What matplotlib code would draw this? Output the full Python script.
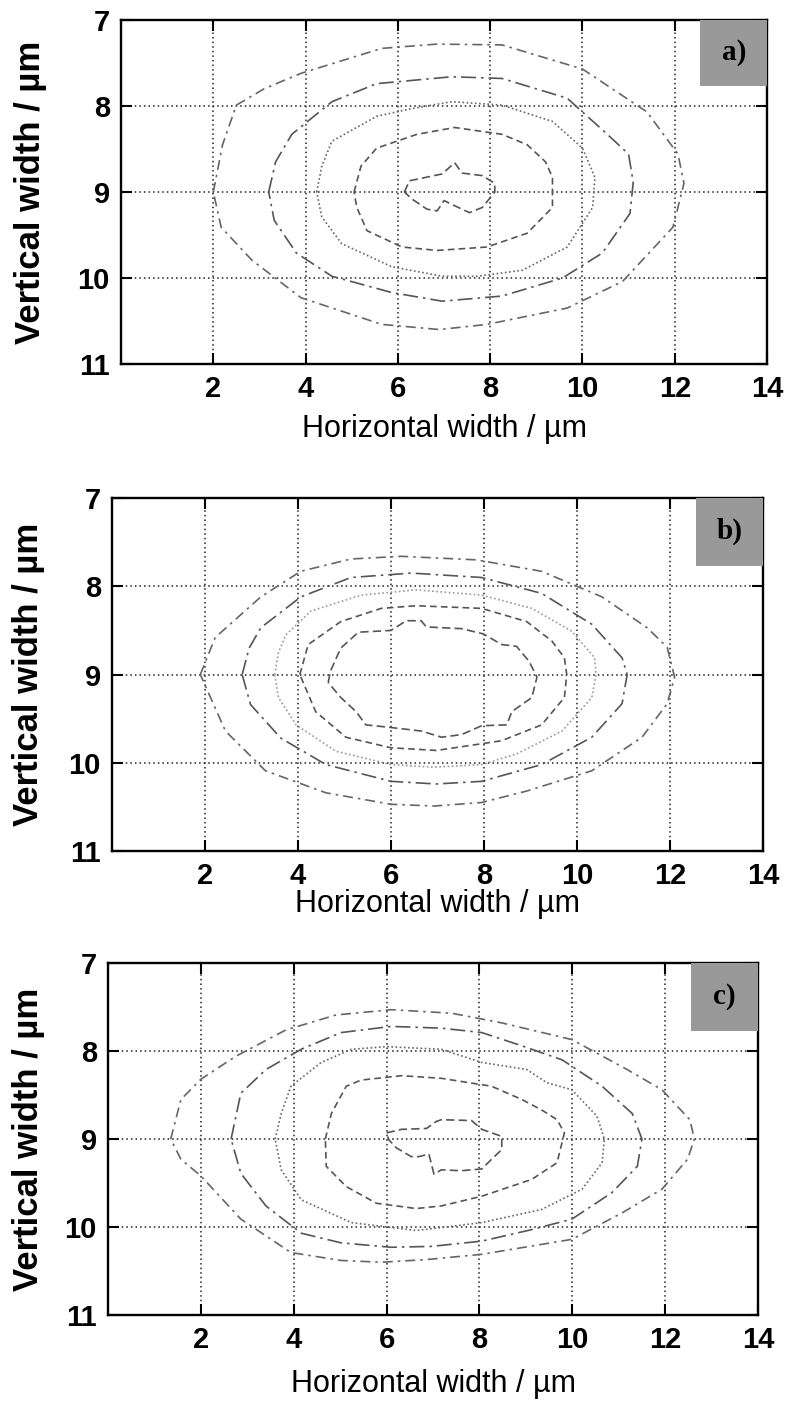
import matplotlib
matplotlib.use("Agg")
import matplotlib.pyplot as plt
from matplotlib.patches import Rectangle

# Eixos comuns
x_ticks = [2, 4, 6, 8, 10, 12, 14]
y_ticks = [7, 8, 9, 10, 11]
panel_labels = ["a)", "b)", "c)"]

# Contornos (x, y) em µm, do externo ao interno
a1 = [(2.0, 9.0), (2.2, 8.45), (2.5, 7.99), (3.1, 7.8), (3.9, 7.62), (5.65, 7.33), (6.85, 7.28), (8.26, 7.29),
      (10.0, 7.57), (11.4, 8.07), (12.07, 8.56), (12.2, 8.9), (11.96, 9.41), (10.87, 10.04),
      (9.67, 10.35), (7.93, 10.54), (6.9, 10.6), (5.65, 10.54), (3.9, 10.23), (2.83, 9.79), (2.17, 9.41)]
a2 = [(3.2, 9.0), (3.35, 8.65), (3.7, 8.33), (4.57, 7.95), (5.54, 7.74), (7.17, 7.66), (8.26, 7.68),
      (9.67, 7.91), (10.54, 8.33), (11.0, 8.56), (11.1, 8.89), (11.03, 9.25), (10.43, 9.71),
      (9.57, 10.0), (8.26, 10.21), (6.96, 10.27), (5.87, 10.17), (4.57, 9.98), (3.8, 9.71), (3.32, 9.33)]
a3 = [(4.24, 9.0), (4.35, 8.7), (4.57, 8.41), (5.54, 8.12), (6.3, 8.03), (7.17, 7.95), (8.26, 7.99),
      (9.35, 8.18), (10.0, 8.49), (10.27, 8.83), (10.22, 9.18), (9.67, 9.64), (8.7, 9.91), (7.72, 9.98),
      (6.96, 9.98), (5.87, 9.87), (4.78, 9.6), (4.35, 9.29)]
a4 = [(5.05, 9.0), (5.2, 8.7), (5.54, 8.49), (6.41, 8.33), (7.23, 8.25), (8.26, 8.33), (8.8, 8.45),
      (9.2, 8.65), (9.35, 8.83), (9.35, 9.18), (8.8, 9.48), (7.93, 9.64), (6.85, 9.68), (6.09, 9.64),
      (5.33, 9.45), (5.11, 9.18)]
a5 = [(6.14, 9.0), (6.25, 8.87), (6.96, 8.79), (7.23, 8.66), (7.39, 8.78), (7.83, 8.81), (8.1, 8.9),
      (8.1, 9.0), (7.83, 9.18), (7.55, 9.24), (7.23, 9.16), (7.0, 9.1), (6.85, 9.22), (6.63, 9.2), (6.3, 9.08)]

b1 = [(1.9, 9.0), (2.22, 8.58), (3.2, 8.12), (4.06, 7.83), (5.14, 7.69), (6.22, 7.66), (7.84, 7.7),
      (9.24, 7.83), (10.54, 8.12), (11.51, 8.47), (11.94, 8.69), (12.1, 9.03), (11.94, 9.33), (11.4, 9.71),
      (10.32, 10.09), (8.92, 10.32), (7.95, 10.45), (6.92, 10.49), (6.0, 10.47), (4.6, 10.34),
      (3.3, 10.09), (2.44, 9.64)]
b2 = [(2.8, 9.0), (2.95, 8.7), (3.2, 8.47), (4.06, 8.12), (5.14, 7.9), (6.44, 7.85), (7.95, 7.9),
      (9.24, 8.08), (10.32, 8.43), (10.97, 8.81), (11.08, 9.0), (10.97, 9.33), (10.32, 9.71), (9.24, 10.02),
      (7.95, 10.21), (6.98, 10.24), (6.0, 10.21), (4.6, 10.02), (3.63, 9.72), (2.98, 9.34)]
b3 = [(3.5, 9.0), (3.58, 8.75), (3.74, 8.55), (4.28, 8.28), (5.36, 8.1), (6.54, 8.04), (7.95, 8.1),
      (9.03, 8.25), (9.89, 8.51), (10.38, 8.81), (10.41, 9.0), (10.32, 9.26), (9.68, 9.64), (8.7, 9.9),
      (7.95, 10.02), (6.92, 10.05), (6.0, 10.02), (4.82, 9.87), (3.96, 9.57), (3.58, 9.26)]
b4 = [(4.04, 9.0), (4.22, 8.66), (4.92, 8.4), (5.79, 8.25), (6.54, 8.22), (7.95, 8.25), (8.92, 8.4),
      (9.46, 8.62), (9.73, 8.81), (9.78, 9.0), (9.73, 9.26), (9.24, 9.57), (8.38, 9.75), (6.98, 9.86),
      (6.0, 9.83), (5.03, 9.71), (4.38, 9.42)]
b5 = [(4.65, 9.09), (4.7, 8.96), (4.92, 8.7), (5.3, 8.52), (6.0, 8.5), (6.33, 8.39), (6.65, 8.39),
      (6.76, 8.46), (7.52, 8.48), (7.99, 8.54), (8.38, 8.66), (8.7, 8.68), (8.97, 8.85), (9.14, 9.03),
      (9.03, 9.26), (8.6, 9.42), (8.49, 9.57), (7.95, 9.58), (7.52, 9.68), (7.09, 9.71), (6.65, 9.64),
      (6.0, 9.6), (5.46, 9.57), (5.25, 9.42), (4.92, 9.26)]

c1 = [(1.35, 9.0), (1.57, 8.55), (2.0, 8.32), (2.75, 8.06), (3.83, 7.76), (4.91, 7.59), (6.1, 7.53),
      (7.4, 7.57), (8.48, 7.68), (9.99, 7.87), (11.18, 8.21), (11.93, 8.44), (12.53, 8.78), (12.63, 9.0),
      (12.48, 9.23), (11.93, 9.57), (11.07, 9.84), (9.99, 10.14), (8.05, 10.31), (6.86, 10.37),
      (5.89, 10.4), (5.02, 10.38), (3.94, 10.29), (2.86, 9.91), (2.0, 9.42), (1.57, 9.23)]
c2 = [(2.65, 9.0), (2.86, 8.48), (3.4, 8.21), (4.16, 7.98), (5.02, 7.79), (6.1, 7.72), (7.18, 7.74),
      (8.05, 7.79), (8.91, 7.94), (9.78, 8.1), (10.64, 8.4), (11.29, 8.71), (11.5, 9.0), (11.4, 9.31),
      (10.85, 9.61), (9.99, 9.91), (9.12, 10.03), (8.05, 10.16), (6.97, 10.22), (6.1, 10.23),
      (5.02, 10.18), (4.16, 10.07), (3.4, 9.76), (2.86, 9.39)]
c3 = [(3.6, 9.0), (3.73, 8.71), (3.94, 8.4), (4.59, 8.13), (5.24, 7.98), (6.0, 7.95), (7.18, 7.98),
      (8.05, 8.13), (9.02, 8.21), (9.45, 8.36), (9.99, 8.44), (10.53, 8.74), (10.69, 9.0), (10.64, 9.27),
      (10.21, 9.57), (9.34, 9.8), (8.05, 9.95), (6.64, 10.04), (5.24, 9.95), (4.16, 9.69), (3.73, 9.35)]
c4 = [(4.68, 9.0), (4.81, 8.71), (5.13, 8.4), (5.45, 8.33), (6.32, 8.28), (7.18, 8.31), (8.26, 8.4),
      (8.91, 8.55), (9.34, 8.67), (9.67, 8.78), (9.83, 8.93), (9.67, 9.27), (9.12, 9.46), (8.05, 9.65),
      (7.18, 9.76), (6.64, 9.79), (5.78, 9.73), (5.13, 9.54), (4.7, 9.31)]
c5 = [(6.0, 8.93), (6.32, 8.89), (6.86, 8.88), (7.07, 8.8), (7.18, 8.78), (7.83, 8.79), (8.05, 8.89),
      (8.48, 8.97), (8.48, 9.12), (8.26, 9.23), (8.05, 9.34), (7.61, 9.36), (7.18, 9.35), (7.02, 9.4),
      (6.91, 9.17), (6.7, 9.2), (6.53, 9.2), (6.21, 9.1), (6.05, 9.01)]

# Estilos dos contornos (externo -> interno)
estilos = [(0, (6, 3, 1.5, 3)), (0, (9, 3, 1.5, 3)), (0, (1, 1.5)), (0, (4, 2.5)), (0, (5, 2.5))]
cores = ["#666666", "#555555", "#666666", "#555555", "#555555"]


def desenhar_painel(ax, contornos, rotulo, cor_pontilhado="#666666", xlab_y=-0.15, ylab_x=-0.11):
    for i, pts in enumerate(contornos):
        xs = [p[0] for p in pts] + [pts[0][0]]
        ys = [p[1] for p in pts] + [pts[0][1]]
        cor = cor_pontilhado if i == 2 else cores[i]
        ax.plot(xs, ys, linestyle=estilos[i], color=cor, linewidth=1.2)

    ax.set_xlim(0, 14)
    ax.set_ylim(11, 7)
    ax.set_xticks(x_ticks)
    ax.set_yticks(y_ticks)
    ax.set_xticklabels([str(t) for t in x_ticks], fontweight="bold")
    ax.set_yticklabels([str(t) for t in y_ticks], fontweight="bold")
    ax.tick_params(direction="in", length=8, width=1.5, top=True, right=True,
                   labelsize=21, pad=8)
    ax.grid(True, linestyle=(0, (1, 2)), color="#222222", linewidth=1.1)
    for s in ax.spines.values():
        s.set_linewidth(1.7)

    ax.set_xlabel("Horizontal width / µm", fontsize=22)
    ax.set_ylabel("Vertical width / µm", fontsize=25, fontweight="bold")
    ax.xaxis.set_label_coords(0.5, xlab_y)
    ax.yaxis.set_label_coords(ylab_x, 0.5)

    # Caixa cinza com o rótulo do painel
    ax.add_patch(Rectangle((12.55, 7.0), 1.45, 0.77, facecolor="#999999", edgecolor="none",
                           zorder=5, clip_on=False))
    ax.text(13.28, 7.38, rotulo, ha="center", va="center", fontsize=21, fontweight="bold",
            family="Liberation Serif", zorder=6)


def main():
    plt.rcParams["font.family"] = ["Liberation Sans", "DejaVu Sans"]
    fig = plt.figure(figsize=(7.88, 14.09), dpi=100)

    ax_a = fig.add_axes([0.1536, 0.7417, 0.8198, 0.2441])
    ax_b = fig.add_axes([0.1421, 0.3960, 0.8261, 0.2505])
    ax_c = fig.add_axes([0.1371, 0.0667, 0.8249, 0.2498])

    desenhar_painel(ax_a, [a1, a2, a3, a4, a5], panel_labels[0], xlab_y=-0.145, ylab_x=-0.115)
    desenhar_painel(ax_b, [b1, b2, b3, b4, b5], panel_labels[1], cor_pontilhado="#9a9a9a",
                    xlab_y=-0.108, ylab_x=-0.103)
    desenhar_painel(ax_c, [c1, c2, c3, c4, c5], panel_labels[2], xlab_y=-0.153, ylab_x=-0.097)

    fig.savefig("out.png", dpi=100)


if __name__ == "__main__":
    main()
